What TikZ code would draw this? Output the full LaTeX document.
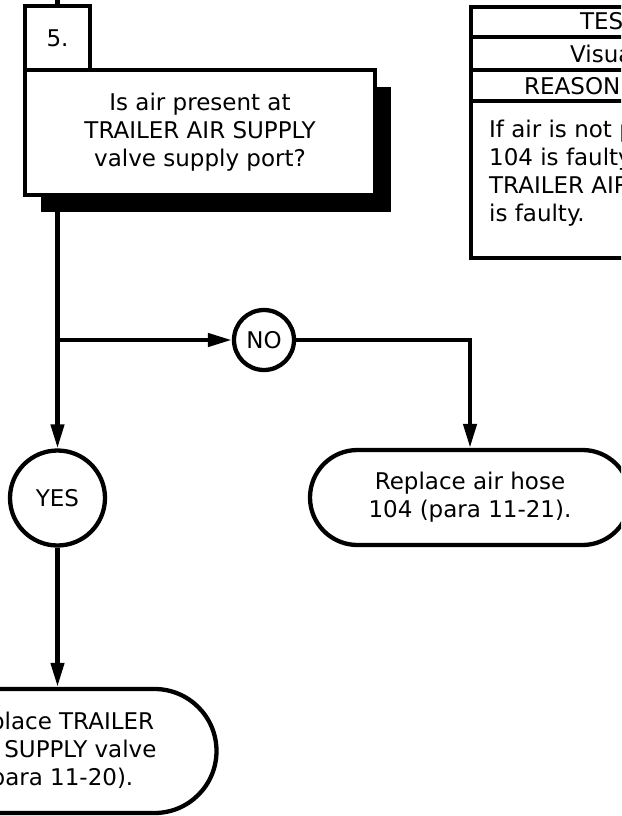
\documentclass[tikz,border=0pt]{standalone}
\usepackage{fontspec}
\setmainfont{DejaVu Sans}
\usetikzlibrary{arrows.meta,shapes.misc,shadows}
\begin{document}
\begin{tikzpicture}[x=1pt,y=-1pt,line width=4.3pt,
  txt/.style={font=\fontsize{23}{28}\selectfont,align=center,inner sep=0pt},
  arr/.style={-{Triangle[length=24pt,width=13pt]}},
  numbox/.style={draw,txt,minimum width=65pt,minimum height=64pt},
  askbox/.style={draw,fill=white,txt,minimum width=350pt,minimum height=125pt,
    drop shadow={shadow xshift=16pt,shadow yshift=-17pt,opacity=1,fill=black}},
  ans/.style={circle,draw,fill=white,txt},
  fixbox/.style={rounded rectangle,draw,fill=white,txt}]
\useasboundingbox (0,0) rectangle (621,816);
\clip (0,0) rectangle (621,816);
% question block
\node[numbox] (num) at (57.5,38) {5.};
\node[askbox] (ask) at (200,132.5) {Is air present at\\TRAILER AIR SUPPLY\\valve supply port?};
\coordinate (top) at (57.5,0);
\draw (top) -- (num);
% answers
\node[ans,minimum size=60pt] (no) at (264,340) {NO};
\node[ans,minimum size=95pt] (yes) at (57.5,498) {YES};
\node[fixbox,minimum width=320pt,minimum height=95pt] (hose) at (470,497.5) {Replace air hose\\104 (para 11-21).};
\node[fixbox,minimum width=318pt,minimum height=124pt] (trailer) at (57.5,751) {Replace TRAILER\\AIR SUPPLY valve\\(para 11-20).};
\coordinate (split) at (57.5,340);
\draw[arr] (ask.south -| yes) -- (yes);
\draw[arr] (split) -- (no);
\draw[arr] (no) -| (hose);
\draw[arr] (yes) -- (trailer);
% test table
\draw[line width=4.8pt] (471,7) rectangle (640,258);
\foreach \y in {37,70,101}
  \draw[line width=4.8pt] (471,\y) -- (640,\y);
\node[txt,anchor=base west] (test) at (578,30) {TEST};
\node[txt,anchor=base west] (visual) at (568,63) {Visua};
\node[txt,anchor=base west] (reason) at (522,94) {REASON};
\node[txt,anchor=north west,align=left] (why) at (487,118) {If air is not p\\104 is faulty\\TRAILER AIR\\is faulty.};
\end{tikzpicture}
\end{document}
